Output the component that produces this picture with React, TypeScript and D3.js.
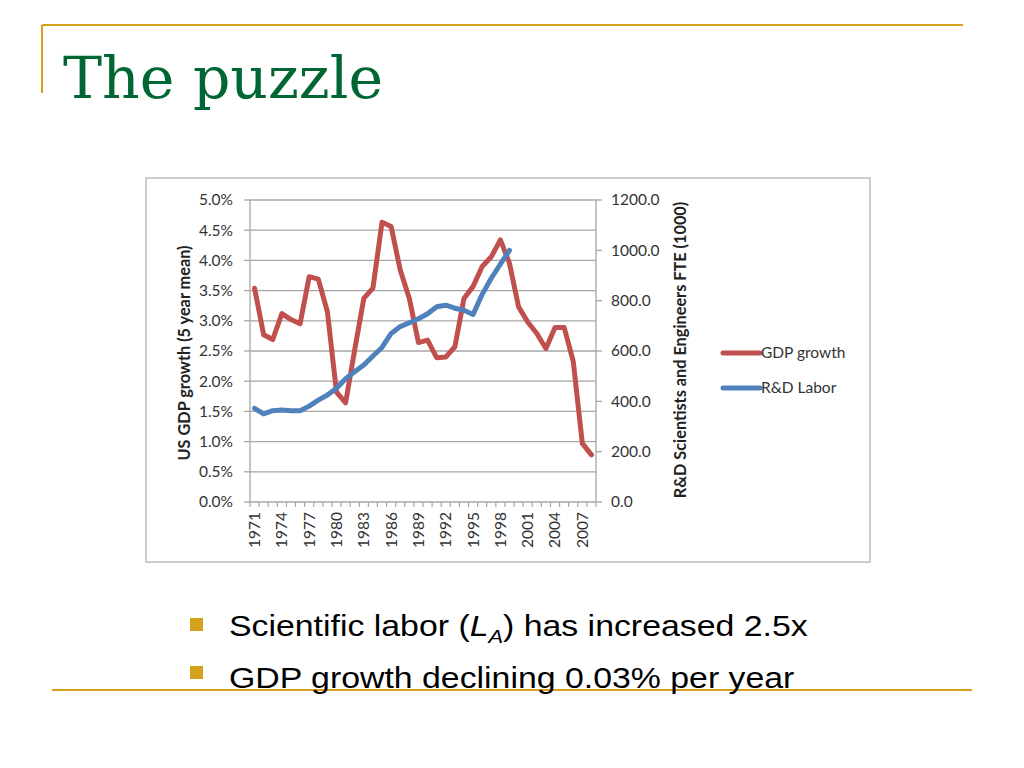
import React from "react";
import * as d3 from "d3";

const years: string[] = [
  "1971","1972","1973","1974","1975","1976","1977","1978","1979","1980",
  "1981","1982","1983","1984","1985","1986","1987","1988","1989","1990",
  "1991","1992","1993","1994","1995","1996","1997","1998","1999","2000",
  "2001","2002","2003","2004","2005","2006","2007","2008",
];
const gdpGrowth: number[] = [
  3.54, 2.77, 2.69, 3.12, 3.02, 2.95, 3.73, 3.69, 3.15, 1.82,
  1.64, 2.52, 3.37, 3.54, 4.63, 4.56, 3.84, 3.37, 2.64, 2.68,
  2.39, 2.40, 2.57, 3.37, 3.57, 3.90, 4.06, 4.34, 3.95, 3.23,
  2.98, 2.79, 2.54, 2.89, 2.89, 2.33, 0.97, 0.78,
];
const rdLabor: number[] = [
  372, 350, 363, 366, 363, 363, 381, 405, 425, 452,
  490, 518, 544, 580, 614, 670, 697, 712, 728, 748,
  776, 782, 770, 762, 745, 825, 889, 945, 1000,
];
const leftTicks: number[] = [0, 0.5, 1, 1.5, 2, 2.5, 3, 3.5, 4, 4.5, 5];
const rightTicks: number[] = [0, 200, 400, 600, 800, 1000, 1200];
const xLabelYears: string[] = ["1971","1974","1977","1980","1983","1986","1989","1992","1995","1998","2001","2004","2007"];
const seriesNames: string[] = ["GDP growth", "R&D Labor"];
const bullets: string[] = ["Scientific labor (", "GDP growth declining 0.03% per year"];

const RED = "#C0504D";
const BLUE = "#4F81BD";
const GOLD = "#D4A21A";
const FONT = "Lato, 'Open Sans', sans-serif";
const SANS = "'Liberation Sans', Arial, sans-serif";

export default function App() {
  const x = d3.scaleBand<string>().domain(years).range([250, 596]);
  const bw = x.bandwidth();
  const cx = (yr: string) => (x(yr) as number) + bw / 2;
  const yL = d3.scaleLinear().domain([0, 5]).range([502, 200]);
  const yR = d3.scaleLinear().domain([0, 1200]).range([502, 200]);

  const gdpLine = d3
    .line<number>()
    .x((_, i) => cx(years[i]))
    .y((d) => yL(d))(gdpGrowth) as string;
  const rdLine = d3
    .line<number>()
    .x((_, i) => cx(years[i]))
    .y((d) => yR(d))(rdLabor) as string;

  const boundaries = d3.range(years.length + 1).map((i) => 250 + i * bw);

  return (
    <svg
      width={1024}
      height={768}
      style={{ position: "absolute", left: 0, top: 0, background: "#fff" }}
    >
      {/* slide decorations */}
      <line x1={42} y1={25} x2={963} y2={25} stroke={GOLD} strokeWidth={2} />
      <line x1={42} y1={25} x2={42} y2={93} stroke={GOLD} strokeWidth={2} />
      <line x1={52} y1={690} x2={972} y2={690} stroke={GOLD} strokeWidth={2} />
      <text
        x={63}
        y={98}
        fontFamily="'DejaVu Serif', serif"
        fontSize={58.5}
        fill="#006633"
      >
        The puzzle
      </text>

      {/* chart frame */}
      <rect x={146} y={178} width={724} height={384} fill="#fff" stroke="#bdbdbd" strokeWidth={1.5} />

      {/* gridlines */}
      {leftTicks.map((t) => (
        <line key={"g" + t} x1={250} x2={596} y1={yL(t)} y2={yL(t)} stroke="#a6a6a6" strokeWidth={1.3} />
      ))}
      {/* axes */}
      <line x1={250} x2={250} y1={200} y2={502} stroke="#a6a6a6" strokeWidth={1.3} />
      <line x1={596} x2={596} y1={200} y2={502} stroke="#a6a6a6" strokeWidth={1.3} />
      {leftTicks.map((t) => (
        <g key={"l" + t}>
          <line x1={244} x2={250} y1={yL(t)} y2={yL(t)} stroke="#a6a6a6" strokeWidth={1.3} />
          <text x={233} y={yL(t)} dy="0.35em" textAnchor="end" fontFamily={FONT} fontSize={15.5} fill="#333">
            {t.toFixed(1) + "%"}
          </text>
        </g>
      ))}
      {rightTicks.map((t) => (
        <g key={"r" + t}>
          <line x1={596} x2={602} y1={yR(t)} y2={yR(t)} stroke="#a6a6a6" strokeWidth={1.3} />
          <text x={611} y={yR(t)} dy="0.35em" textAnchor="start" fontFamily={FONT} fontSize={15.5} fill="#333">
            {t.toFixed(1)}
          </text>
        </g>
      ))}
      {boundaries.map((bx, i) => (
        <line key={"t" + i} x1={bx} x2={bx} y1={502} y2={507} stroke="#a6a6a6" strokeWidth={1.2} />
      ))}
      {xLabelYears.map((yr) => (
        <text
          key={yr}
          transform={`translate(${cx(yr)},512) rotate(-90)`}
          dy="0.35em"
          textAnchor="end"
          fontFamily={FONT}
          fontSize={15.5}
          fill="#333"
        >
          {yr}
        </text>
      ))}

      {/* axis titles */}
      <text
        transform="translate(184,353) rotate(-90)"
        textAnchor="middle"
        dy="0.35em"
        fontFamily={FONT}
        fontWeight="bold"
        fontSize={16.3}
        fill="#222"
      >
        US GDP growth (5 year mean)
      </text>
      <text
        transform="translate(680,350) rotate(-90)"
        textAnchor="middle"
        dy="0.35em"
        fontFamily={FONT}
        fontWeight="bold"
        fontSize={16.3}
        fill="#222"
      >
        R&amp;D Scientists and Engineers FTE (1000)
      </text>

      {/* series */}
      <path d={gdpLine} fill="none" stroke={RED} strokeWidth={5} strokeLinejoin="round" strokeLinecap="round" />
      <path d={rdLine} fill="none" stroke={BLUE} strokeWidth={5} strokeLinejoin="round" strokeLinecap="round" />

      {/* legend */}
      {seriesNames.map((n, i) => (
        <g key={n}>
          <line x1={723} x2={760} y1={353 + i * 35} y2={353 + i * 35} stroke={i === 0 ? RED : BLUE} strokeWidth={5} strokeLinecap="round" />
          <text x={761} y={353 + i * 35} dy="0.35em" fontFamily={FONT} fontSize={15.5} fill="#333">
            {n}
          </text>
        </g>
      ))}

      {/* bullets */}
      <rect x={190} y={618} width={13} height={13} fill={GOLD} />
      <rect x={190} y={666} width={13} height={13} fill={GOLD} />
      <g transform="translate(229,636) scale(1.147,1)">
        <text x={0} y={0} fontFamily={SANS} fontSize={29.5} fill="#000">
          {bullets[0]}
          <tspan fontStyle="italic">L</tspan>
          <tspan fontStyle="italic" fontSize={19} dy={7}>A</tspan>
          <tspan dy={-7}>) has increased 2.5x</tspan>
        </text>
      </g>
      <g transform="translate(229,688) scale(1.147,1)">
        <text x={0} y={0} fontFamily={SANS} fontSize={29.5} fill="#000">
          {bullets[1]}
        </text>
      </g>
    </svg>
  );
}
